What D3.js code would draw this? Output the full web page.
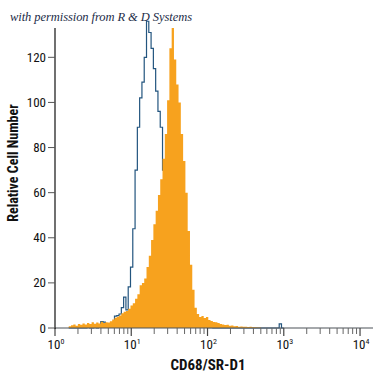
<!DOCTYPE html>
<html>
<head>
<meta charset="utf-8">
<script src="https://cdn.jsdelivr.net/npm/d3@7"></script>
<style>
  html, body { margin: 0; padding: 0; background: #fff; }
  svg { display: block; }
  .cond { font-family: "Liberation Sans Narrow", "Roboto Condensed", "DejaVu Sans Condensed", "Arial Narrow", sans-serif; }
</style>
</head>
<body>
<div id="chart"></div>
<script>
// ── Data: log10 of each bin's lower edge, and counts per bin ──────────
const binLog = [
  0.18,0.21,0.24,0.27,0.30,0.33,0.36,0.39,0.42,0.45,
  0.48,0.51,0.54,0.57,0.60,0.63,0.66,0.69,0.72,0.75,
  0.78,0.81,0.84,0.87,0.90,0.93,0.96,0.99,1.02,1.05,
  1.08,1.11,1.14,1.17,1.20,1.23,1.26,1.29,1.32,1.35,
  1.38,1.41,1.44,1.47,1.50,1.53,1.56,1.59,1.62,1.65,
  1.68,1.71,1.74,1.77,1.80,1.83,1.86,1.89,1.92,1.95,
  1.98,2.01,2.04,2.07,2.10,2.13,2.16,2.19,2.22,2.25,
  2.28,2.31,2.34,2.37,2.40,2.43,2.46,2.49,2.52,2.55,
  2.58,2.61,2.64,2.67,2.70,2.73,2.76,2.79,2.82,2.85,
  2.88,2.91,2.94,2.97
];
const binStep = 0.03;

// CD68/SR-D1 stained (orange, filled)
const stainedCounts = [
  0.8,1.2,1.5,1.0,1.8,1.4,2.0,1.6,2.2,1.8,
  2.6,1.9,2.4,2.0,2.8,2.2,2.6,2.4,3.0,3.8,
  4.5,5.0,5.5,6.5,7.2,7.5,8.5,10,11,13,
  15,19,20,22,27,32,39,46,52,59,
  66,75,86,101,124,133,119,108,100,86,
  74,60,43,28,17,9,6.2,4.9,5.3,4.4,
  4.9,3.5,3.1,2.7,2.5,2.2,1.8,1.6,1.3,1.4,
  1.0,1.1,0.8,0.9,0.6,0.7,0.5,0.5,0.4,0.6,
  0.3,0.3,0.2,0.2,0,0,0,0,0,0,
  0,0,0,0
];

// isotype control (blue outline)
const controlCounts = [
  0,0,0,0,0,0,0,0,0.5,0,
  0,0.5,0,0.5,2.8,2.6,1.0,1.0,1.2,1.8,
  5.3,5.5,6.2,9.0,13.7,8.0,18.2,27,44,70,
  89,102,109,120,136,131,124,115,105,96,
  89,70,57,48,38,30,22,16,11,8,
  5,3.5,2.5,1.8,1.2,1.0,0.8,0.5,0.5,0.3,
  0.3,0.2,0.2,0,0,0,0,0,0,0,
  0,0,0,0,0,0,0,0,0,0,
  0,0,0,0,0,0,0,0,0,0,
  0,0,1.8,0
];

const yTicks = [0, 20, 40, 60, 80, 100, 120];
const xMajor = [1, 10, 100, 1000, 10000];
const xMinor = [2,3,4,5,6,7,8,9,20,30,40,50,60,70,80,90,200,300,400,500,600,700,800,900,2000,3000,4000,5000,6000,7000,8000,9000];

// ── Layout ───────────────────────────────────────────────────────────
const W = 375, H = 375;
const svg = d3.select("#chart").append("svg")
  .attr("width", W).attr("height", H);

const x = d3.scaleLog().domain([1, Math.pow(10, 4.17)]).range([55, 373]);
const y = d3.scaleLinear().domain([0, 133]).range([328, 28]);

// step-shaped series: one point per bin edge
function stepPoints(counts) {
  const pts = binLog.map((l, i) => ({ v: Math.pow(10, l), c: counts[i] }));
  const last = binLog[binLog.length - 1] + binStep;
  pts.push({ v: Math.pow(10, last), c: counts[counts.length - 1] });
  return pts;
}

// control line first, stained fill on top
const line = d3.line()
  .x(d => x(d.v)).y(d => y(d.c))
  .curve(d3.curveStepAfter);

svg.append("path")
  .datum(stepPoints(controlCounts))
  .attr("d", line)
  .attr("fill", "none")
  .attr("stroke", "#23557f")
  .attr("stroke-width", 1.2);

const area = d3.area()
  .x(d => x(d.v)).y0(y(0)).y1(d => y(d.c))
  .curve(d3.curveStepAfter);

svg.append("path")
  .datum(stepPoints(stainedCounts))
  .attr("d", area)
  .attr("fill", "#f7a21e");

// ── X axis ───────────────────────────────────────────────────────────
const gx = svg.append("g").attr("transform", `translate(0,${y(0)})`);
gx.append("line")
  .attr("x1", x.range()[0]).attr("x2", x.range()[1])
  .attr("stroke", "#4d5258").attr("stroke-width", 1.2);

gx.selectAll(".minor").data(xMinor).join("line")
  .attr("class", "minor")
  .attr("x1", d => x(d)).attr("x2", d => x(d))
  .attr("y1", 0).attr("y2", 6)
  .attr("stroke", "#666").attr("stroke-width", 1);

gx.selectAll(".major").data(xMajor).join("line")
  .attr("class", "major")
  .attr("x1", d => x(d)).attr("x2", d => x(d))
  .attr("y1", 0).attr("y2", 8)
  .attr("stroke", "#444").attr("stroke-width", 1.2);

const xl = gx.selectAll(".xlab").data(xMajor).join("text")
  .attr("class", "xlab cond")
  .attr("x", d => x(d) + 1).attr("y", 21)
  .attr("text-anchor", "middle")
  .style("font-size", "13px").attr("fill", "#111");
xl.append("tspan").text("10");
xl.append("tspan")
  .attr("dy", -5).style("font-size", "8px")
  .text(d => Math.round(Math.log10(d)));

// ── Y axis ───────────────────────────────────────────────────────────
const gy = svg.append("g").attr("transform", `translate(${x.range()[0]},0)`);
gy.append("line")
  .attr("y1", 28).attr("y2", y(0) + 1)
  .attr("stroke", "#111").attr("stroke-width", 1.2);

gy.selectAll(".ytick").data(yTicks).join("line")
  .attr("class", "ytick")
  .attr("x1", -7).attr("x2", 0)
  .attr("y1", d => y(d)).attr("y2", d => y(d))
  .attr("stroke", "#555").attr("stroke-width", 1);

gy.selectAll(".ylab").data(yTicks).join("text")
  .attr("class", "ylab cond")
  .attr("x", -9).attr("y", d => y(d)).attr("dy", "0.35em")
  .attr("text-anchor", "end")
  .style("font-size", "13px").attr("fill", "#111")
  .text(d => d);

// ── Titles ───────────────────────────────────────────────────────────
svg.append("text")
  .attr("class", "cond")
  .attr("x", 208).attr("y", 370)
  .attr("text-anchor", "middle")
  .style("font-size", "15px").style("font-weight", "bold")
  .attr("fill", "#111")
  .text("CD68/SR-D1");

svg.append("text")
  .attr("class", "cond")
  .attr("transform", "translate(18,163) rotate(-90)")
  .attr("text-anchor", "middle")
  .style("font-size", "14px").style("font-weight", "bold")
  .attr("fill", "#111")
  .text("Relative Cell Number");

svg.append("text")
  .attr("x", 10).attr("y", 21)
  .style("font-family", "'Liberation Serif', 'DejaVu Serif', serif")
  .style("font-style", "italic")
  .style("font-size", "12.5px")
  .attr("textLength", 182)
  .attr("fill", "#1c2c48")
  .text("with permission from R & D Systems");
</script>
</body>
</html>
